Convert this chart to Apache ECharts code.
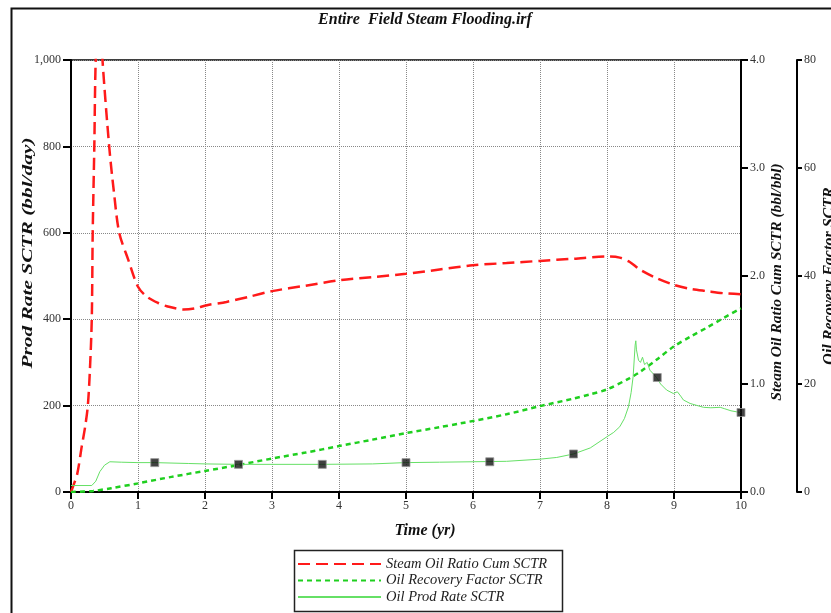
<!DOCTYPE html>
<html>
<head>
<meta charset="utf-8">
<script src="https://cdn.jsdelivr.net/npm/echarts@6/dist/echarts.min.js"></script>
<style>
html,body{margin:0;padding:0;background:#fff;}
#chart{width:831px;height:613px;}
</style>
</head>
<body>
<div id="chart"></div>
<script>
// ---- Data ----
const titleText = "Entire  Field Steam Flooding.irf";
const xTicks = [0,1,2,3,4,5,6,7,8,9,10];

// Steam Oil Ratio Cum SCTR (bbl/bbl) - right axis 1
const sorTime = [0,0.03,0.094,0.16,0.21,0.25,0.28,0.31,0.324,0.348,0.369,0.42,0.47,0.57,0.64,0.72,0.855,1.0,1.13,1.3,1.43,1.68,1.85,2.03,2.32,2.67,3.0,3.5,4.0,4.5,5.0,5.5,6.0,6.5,7.0,7.5,8.0,8.19,8.34,8.49,8.74,8.99,9.25,9.49,9.75,10.0];
const sorValue = [0,0.05,0.17,0.42,0.6,0.79,1.1,1.6,2.4,3.2,4.0,4.6,4.0,3.2,2.78,2.4,2.15,1.9,1.81,1.75,1.72,1.69,1.70,1.73,1.76,1.81,1.86,1.91,1.96,1.99,2.02,2.06,2.10,2.12,2.14,2.16,2.18,2.17,2.13,2.06,1.98,1.92,1.88,1.86,1.84,1.83];

// Oil Recovery Factor SCTR - right axis 2
const rfTime = [0,0.33,0.6,1.0,1.5,2.0,2.5,3.0,3.5,4.0,4.5,5.0,5.5,5.81,6.5,7.0,7.5,7.75,8.0,8.34,8.5,8.75,8.99,9.25,9.5,9.75,10.0];
const rfValue = [0,0.2,0.7,1.6,2.8,3.9,5.0,6.2,7.3,8.5,9.7,10.9,12.0,12.7,14.4,15.9,17.3,18.1,19.0,21.1,22.3,24.6,26.9,28.8,30.5,32.3,34.0];

// Oil Prod Rate SCTR (bbl/day) - left axis
const rateTime = [0,0.31,0.37,0.43,0.5,0.58,0.75,1.0,1.25,1.75,2.0,2.5,3.0,3.74,4.5,4.99,5.5,6.0,6.5,7.0,7.25,7.5,7.75,8.0,8.1,8.19,8.26,8.32,8.36,8.39,8.42,8.43,8.44,8.47,8.5,8.53,8.56,8.6,8.64,8.7,8.74,8.8,8.89,8.99,9.05,9.1,9.14,9.24,9.35,9.44,9.55,9.69,9.75,9.85,9.99];
const rateValue = [15,15,25,47,62,70,69,68,68,66,65,64,64,64,65,68,69,70,71,76,80,88,102,128,138,151,170,197,230,267,340,350,329,305,300,312,295,300,282,272,265,250,236,228,232,222,213,205,200,196,195,196,193,188,184];

// Markers on the Oil Prod Rate curve
const markerTime = [1.25,2.5,3.75,5.0,6.25,7.5,8.75,10.0];
const markerValue = [68,64,64,68,70,88,265,184];

const seriesNames = ["Steam Oil Ratio Cum SCTR","Oil Recovery Factor SCTR","Oil Prod Rate SCTR"];
const axisNames = ["Prod Rate SCTR (bbl/day)","Steam Oil Ratio Cum SCTR (bbl/bbl)","Oil Recovery Factor SCTR","Time (yr)"];

// ---- Helpers ----
const zip = (xs, ys) => xs.map((x, i) => [x, ys[i]]);
const serif = "'Liberation Serif','DejaVu Serif',serif";
const tickFont = {fontFamily: serif, fontSize: 12, color: '#333'};
const nameFont = (size) => ({fontFamily: serif, fontSize: size, fontWeight: 'bold', fontStyle: 'italic', color: '#111'});

const chart = echarts.init(document.getElementById('chart'), null, {renderer: 'canvas'});

const option = {
  backgroundColor: '#fff',
  animation: false,
  grid: {left: 71, top: 60, width: 670, height: 432, show: true, borderColor: '#000', borderWidth: 1.5, backgroundColor: 'transparent', containLabel: false, outerBoundsMode: 'none'},
  graphic: [
    {type: 'rect', left: 9, top: 6, shape: {x: 0, y: 0, width: 900, height: 700}, style: {fill: 'none', stroke: '#111', lineWidth: 2}, z: -1},
    {type: 'text', x: 425, y: 20, style: {text: titleText, textAlign: 'center', textVerticalAlign: 'middle', font: "italic bold 16px 'Liberation Serif', serif", fill: '#111'}},
    {type: 'text', x: 425, y: 531, style: {text: axisNames[3], textAlign: 'center', textVerticalAlign: 'middle', font: "italic bold 16px 'Liberation Serif', serif", fill: '#111'}},
    {type: 'text', x: 28, y: 253, rotation: Math.PI / 2, scaleX: 1.38, style: {text: axisNames[0], textAlign: 'center', textVerticalAlign: 'middle', font: "italic bold 15.5px 'Liberation Serif', serif", fill: '#111'}},
    {type: 'text', x: 777, y: 282, rotation: Math.PI / 2, style: {text: axisNames[1], textAlign: 'center', textVerticalAlign: 'middle', font: "italic bold 15.5px 'Liberation Serif', serif", fill: '#111'}},
    {type: 'rect', left: 292, top: 548, shape: {x: 0, y: 0, width: 268, height: 61}, style: {fill: 'none', stroke: '#222', lineWidth: 1.5}}
  ],
  legend: {
    data: seriesNames,
    orient: 'vertical',
    left: 292, top: 556.5,
    padding: [0, 0, 0, 5],
    itemWidth: 83, itemHeight: 12, itemGap: 1.5,
    itemStyle: {opacity: 0},
    textStyle: {fontFamily: serif, fontSize: 14.5, lineHeight: 15, fontStyle: 'italic', color: '#222'}
  },
  xAxis: {
    type: 'value', min: xTicks[0], max: xTicks[xTicks.length - 1], interval: 1,
    axisLine: {lineStyle: {color: '#000', width: 2}},
    axisTick: {show: true, length: 7, lineStyle: {color: '#000', width: 2}},
    axisLabel: Object.assign({margin: 8}, tickFont),
    splitLine: {show: true, lineStyle: {color: '#888', type: 'dotted', width: 1}}
  },
  yAxis: [
    {
      type: 'value', min: 0, max: 1000, interval: 200, position: 'left',
      axisLine: {show: true, lineStyle: {color: '#000', width: 2}},
      axisTick: {show: true, length: 8, lineStyle: {color: '#000', width: 2}},
      axisLabel: Object.assign({margin: 10, formatter: v => v.toLocaleString('en-US')}, tickFont),
      splitLine: {show: true, lineStyle: {color: '#888', type: 'dotted', width: 1}}
    },
    {
      type: 'value', min: 0, max: 4, interval: 1, position: 'right', offset: 0,
      axisLine: {show: true, lineStyle: {color: '#000', width: 2}},
      axisTick: {show: true, length: 7, lineStyle: {color: '#000', width: 2}},
      axisLabel: Object.assign({margin: 9, formatter: v => v.toFixed(1)}, tickFont),
      splitLine: {show: false}
    },
    {
      type: 'value', min: 0, max: 80, interval: 20, position: 'right', offset: 56,
      name: axisNames[2], nameLocation: 'middle', nameGap: 25, nameRotate: 90, nameMoveOverlap: false,
      nameTextStyle: nameFont(16),
      axisLine: {show: true, lineStyle: {color: '#000', width: 2}},
      axisTick: {show: true, length: 5, lineStyle: {color: '#000', width: 2}},
      axisLabel: Object.assign({margin: 7}, tickFont),
      splitLine: {show: false}
    }
  ],
  series: [
    {
      name: seriesNames[0], type: 'line', yAxisIndex: 1, showSymbol: false, symbol: 'none', smooth: 0.3, clip: true,
      data: zip(sorTime, sorValue),
      lineStyle: {color: '#ff1a1a', width: 2.5, type: [12, 6]},
      itemStyle: {color: '#ff1a1a'}, z: 3
    },
    {
      name: seriesNames[1], type: 'line', yAxisIndex: 2, showSymbol: false, symbol: 'none', smooth: 0.3, clip: true,
      data: zip(rfTime, rfValue),
      lineStyle: {color: '#1fcf1f', width: 2.5, type: [5, 4]},
      itemStyle: {color: '#1fcf1f'}, z: 3
    },
    {
      name: seriesNames[2], type: 'line', yAxisIndex: 0, showSymbol: false, symbol: 'none', clip: true,
      data: zip(rateTime, rateValue),
      lineStyle: {color: '#66e066', width: 1},
      itemStyle: {color: '#66e066'}, z: 3
    },
    {
      name: 'markers', type: 'scatter', yAxisIndex: 0, symbol: 'rect', symbolSize: 8,
      data: zip(markerTime, markerValue),
      itemStyle: {color: '#111', borderColor: '#999', borderWidth: 1}, z: 5, clip: false
    }
  ]
};
chart.setOption(option);
</script>
</body>
</html>
